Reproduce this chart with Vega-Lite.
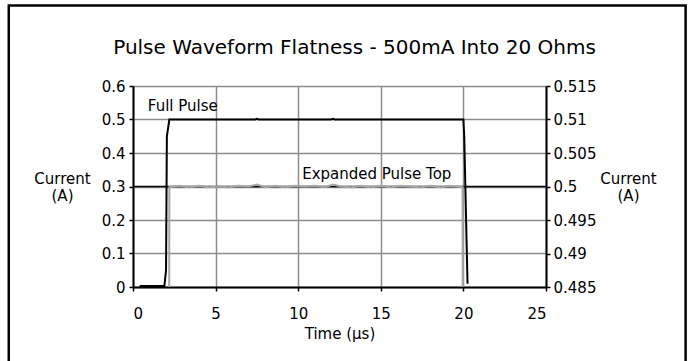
{
  "$schema": "https://vega.github.io/schema/vega-lite/v6.json",
  "width": 413,
  "height": 201,
  "autosize": {"type": "none"},
  "padding": {"left": 133, "top": 86, "right": 148, "bottom": 74},
  "background": "white",
  "config": {
    "font": "DejaVu Sans",
    "view": {"stroke": null},
    "axis": {
      "labelFont": "DejaVu Sans",
      "labelFontSize": 15,
      "labelColor": "black",
      "labelOverlap": false,
      "labelBound": false,
      "titleFont": "DejaVu Sans",
      "titleFontSize": 15,
      "titleFontWeight": "normal",
      "titleColor": "black",
      "domainColor": "black",
      "domainWidth": 2,
      "tickColor": "black",
      "tickWidth": 1.5,
      "tickSize": 4,
      "gridColor": "#8c8c8c",
      "gridWidth": 1.5,
      "gridOpacity": 1
    }
  },
  "title": {
    "text": "Pulse Waveform Flatness - 500mA Into 20 Ohms",
    "font": "DejaVu Sans",
    "fontSize": 20,
    "fontWeight": "normal",
    "color": "black",
    "anchor": "middle",
    "frame": "group",
    "baseline": "alphabetic",
    "dx": 15,
    "offset": 0,
    "dy": 70
  },
  "datasets": {
    "full": [
      {"t": 0.4, "i": 0.003},
      {"t": 1.9, "i": 0.003},
      {"t": 2.0, "i": 0.05},
      {"t": 2.05, "i": 0.45},
      {"t": 2.2, "i": 0.5},
      {"t": 7.4, "i": 0.5},
      {"t": 7.5, "i": 0.502},
      {"t": 7.6, "i": 0.5},
      {"t": 12.0, "i": 0.5},
      {"t": 12.1, "i": 0.502},
      {"t": 12.2, "i": 0.5},
      {"t": 20.0, "i": 0.5},
      {"t": 20.05, "i": 0.45},
      {"t": 20.25, "i": 0.01}
    ],
    "top": [
      {"t": 2.15, "i": 0.40},
      {"t": 2.2, "i": 0.4999},
      {"t": 2.8, "i": 0.5001},
      {"t": 3.4, "i": 0.4999},
      {"t": 4.0, "i": 0.5001},
      {"t": 4.6, "i": 0.4999},
      {"t": 5.2, "i": 0.5000},
      {"t": 5.8, "i": 0.4999},
      {"t": 6.4, "i": 0.5001},
      {"t": 7.0, "i": 0.5000},
      {"t": 7.5, "i": 0.5003},
      {"t": 8.0, "i": 0.4999},
      {"t": 8.6, "i": 0.5001},
      {"t": 9.2, "i": 0.4999},
      {"t": 9.8, "i": 0.5001},
      {"t": 10.4, "i": 0.5000},
      {"t": 11.0, "i": 0.5001},
      {"t": 11.6, "i": 0.4999},
      {"t": 12.1, "i": 0.5003},
      {"t": 12.6, "i": 0.5000},
      {"t": 13.2, "i": 0.4999},
      {"t": 13.8, "i": 0.5001},
      {"t": 14.4, "i": 0.4999},
      {"t": 15.0, "i": 0.5001},
      {"t": 15.6, "i": 0.4999},
      {"t": 16.2, "i": 0.5001},
      {"t": 16.8, "i": 0.5000},
      {"t": 17.4, "i": 0.4999},
      {"t": 18.0, "i": 0.5001},
      {"t": 18.6, "i": 0.4999},
      {"t": 19.2, "i": 0.5001},
      {"t": 19.95, "i": 0.4999},
      {"t": 20.0, "i": 0.40}
    ],
    "labels": [
      {"t": 0.9, "i": 0.525, "text": "Full Pulse"},
      {"t": 10.24, "i": 0.322, "text": "Expanded Pulse Top"}
    ],
    "frame": [
      {"t": -7.52, "t2": 33.45, "i": -0.6, "i2": 0.84}
    ],
    "ref": [
      {"t": 0, "i": 0.3},
      {"t": 25, "i": 0.3}
    ]
  },
  "layer": [
    {
      "encoding": {
        "x": {
          "field": "t", "type": "quantitative",
          "scale": {"domain": [0, 25], "nice": false},
          "axis": {
            "values": [0, 5, 10, 15, 20, 25],
            "labelOverlap": false,
            "grid": true,
            "title": "Time (μs)",
            "titlePadding": 5,
            "labelPadding": 15,
            "tickSize": 4
          }
        },
        "y": {
          "field": "i", "type": "quantitative",
          "scale": {"domain": [0, 0.6], "nice": false},
          "axis": {
            "orient": "left",
            "values": [0, 0.1, 0.2, 0.3, 0.4, 0.5, 0.6],
            "labelExpr": "format(datum.value, '.1~f')",
            "labelOverlap": false,
            "grid": true,
            "labelPadding": 4,
            "title": ["Current", "(A)"],
            "titleAngle": 0,
            "titleAlign": "center",
            "titleBaseline": "alphabetic",
            "titleX": -71,
            "titleY": 97,
            "titleLineHeight": 17
          }
        }
      },
      "layer": [
        {
          "data": {"name": "ref"},
          "mark": {"type": "line", "color": "black", "strokeWidth": 1.5}
        },
        {
          "data": {"name": "full"},
          "mark": {"type": "line", "color": "black", "strokeWidth": 2, "clip": true}
        },
        {
          "data": {"name": "labels"},
          "mark": {"type": "text", "align": "left", "baseline": "alphabetic", "fontSize": 15, "color": "black", "font": "DejaVu Sans"},
          "encoding": {
            "text": {"field": "text"}
          }
        },
        {
          "data": {"name": "frame"},
          "mark": {"type": "rect", "fill": null, "stroke": "black", "strokeWidth": 2.5, "clip": false},
          "encoding": {
            "x2": {"field": "t2"},
            "y2": {"field": "i2"}
          }
        }
      ]
    },
    {
      "data": {"name": "top"},
      "mark": {"type": "line", "color": "#a6a6a6", "strokeWidth": 2, "clip": true},
      "encoding": {
        "x": {
          "field": "t", "type": "quantitative",
          "scale": {"domain": [0, 25], "nice": false},
          "axis": {
            "values": [0, 5, 10, 15, 20, 25],
            "labelOverlap": false,
            "grid": true,
            "title": "Time (μs)",
            "titlePadding": 5,
            "labelPadding": 15,
            "tickSize": 4
          }
        },
        "y": {
          "field": "i", "type": "quantitative",
          "scale": {"domain": [0.485, 0.515], "nice": false, "zero": false},
          "axis": {
            "orient": "right",
            "values": [0.485, 0.49, 0.495, 0.5, 0.505, 0.51, 0.515],
            "labelExpr": "format(datum.value, '.3~f')",
            "labelOverlap": false,
            "grid": false,
            "labelPadding": 3,
            "title": ["Current", "(A)"],
            "titleAngle": 0,
            "titleAlign": "center",
            "titleBaseline": "alphabetic",
            "titleX": 82,
            "titleY": 97,
            "titleLineHeight": 17
          }
        }
      }
    }
  ],
  "resolve": {"scale": {"y": "independent"}}
}
